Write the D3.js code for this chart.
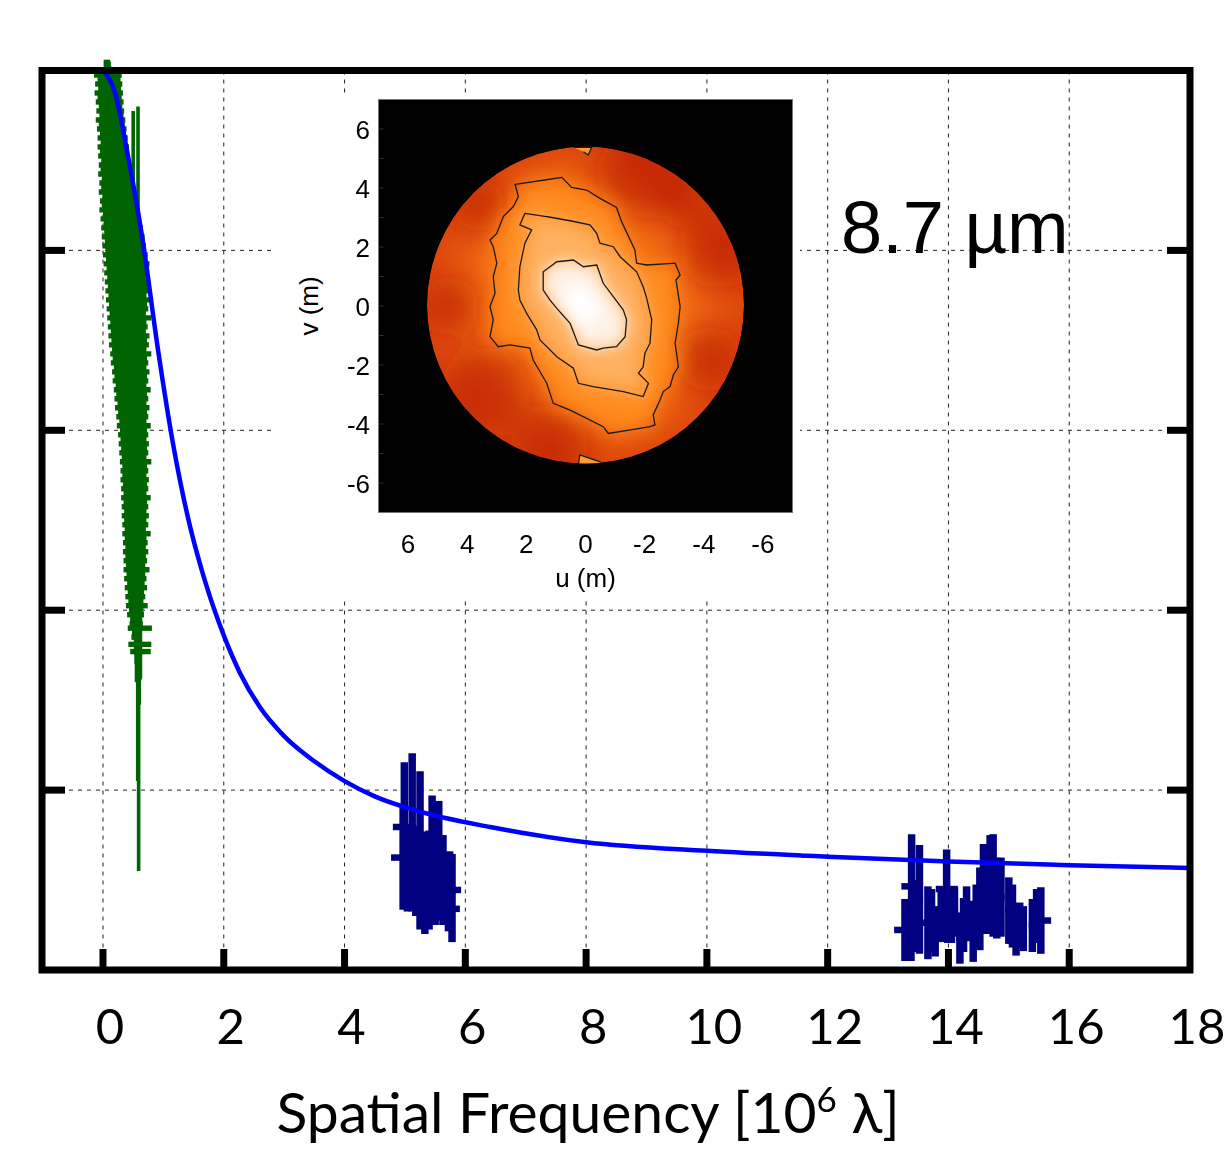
<!DOCTYPE html>
<html>
<head>
<meta charset="utf-8">
<script src="https://cdn.jsdelivr.net/npm/d3@7"></script>
<style>
  body { margin: 0; background: #fff; }
  svg { display: block; }
</style>
</head>
<body>
<div id="chart"></div>
<script>
// model visibility curve (blue line)
var modelFreq = [0, 0.2, 0.4, 0.66, 0.91, 1.16, 1.4, 1.7, 2.0, 2.27, 2.6, 3.0, 3.5, 4.0, 4.5, 5.25, 6.41, 8.0, 10.0, 12.0, 14.0, 16.0, 18.0];
var modelVis = [1.0, 0.975, 0.91, 0.81, 0.69, 0.585, 0.505, 0.43, 0.372, 0.33, 0.292, 0.26, 0.232, 0.21, 0.193, 0.176, 0.159, 0.142, 0.1325, 0.126, 0.1205, 0.1165, 0.1135];

// short baseline data (green)
var greenVis = [
    1.000, 0.995, 0.990, 0.985, 0.980, 0.975, 0.970, 0.965, 0.960, 0.955,
    0.950, 0.945, 0.940, 0.935, 0.930, 0.925, 0.920, 0.915, 0.910, 0.905,
    0.900, 0.895, 0.890, 0.885, 0.880, 0.875, 0.870, 0.865, 0.860, 0.855,
    0.850, 0.845, 0.840, 0.835, 0.830, 0.825, 0.820, 0.815, 0.810, 0.805,
    0.800, 0.795, 0.790, 0.785, 0.780, 0.775, 0.770, 0.765, 0.760, 0.755,
    0.750, 0.745, 0.740, 0.735, 0.730, 0.725, 0.720, 0.715, 0.710, 0.705,
    0.700, 0.695, 0.690, 0.685, 0.680, 0.675, 0.670, 0.665, 0.660, 0.655,
    0.650, 0.645, 0.640, 0.635, 0.630, 0.625, 0.620, 0.615, 0.610, 0.605,
    0.600, 0.595, 0.590, 0.585, 0.580, 0.575, 0.570, 0.565, 0.560, 0.555,
    0.550, 0.545, 0.540, 0.535, 0.530, 0.525, 0.520, 0.515, 0.510, 0.505,
    0.500, 0.495, 0.490, 0.485, 0.480, 0.475, 0.470, 0.465, 0.460, 0.455,
    0.450, 0.445, 0.440, 0.435, 0.430, 0.425, 0.420, 0.415, 0.410, 0.405,
    0.400, 0.395, 0.390, 0.385, 0.380, 0.375, 0.370, 0.362, 0.354,
    0.800, 0.790, 0.450, 0.450, 0.420, 0.990
];
var greenVisErr = [
    0.012, 0.015, 0.02, 0.018, 0.025, 0.02, 0.03, 0.025, 0.03, 0.02,
    0.03, 0.025, 0.035, 0.02, 0.03, 0.04, 0.025, 0.03, 0.035, 0.02,
    0.03, 0.04, 0.025, 0.035, 0.03, 0.045, 0.02, 0.03, 0.04, 0.025,
    0.035, 0.03, 0.045, 0.02, 0.03, 0.04, 0.035, 0.025, 0.05, 0.03,
    0.04, 0.03, 0.045, 0.025, 0.035, 0.05, 0.03, 0.04, 0.025, 0.045,
    0.035, 0.03, 0.05, 0.04, 0.025, 0.045, 0.03, 0.035, 0.05, 0.03,
    0.04, 0.045, 0.03, 0.05, 0.035, 0.025, 0.045, 0.04, 0.03, 0.05,
    0.035, 0.045, 0.03, 0.04, 0.05, 0.035, 0.03, 0.045, 0.04, 0.03,
    0.05, 0.035, 0.04, 0.03, 0.045, 0.05, 0.035, 0.04, 0.03, 0.045,
    0.04, 0.035, 0.05, 0.03, 0.045, 0.04, 0.035, 0.05, 0.03, 0.04,
    0.045, 0.035, 0.04, 0.05, 0.03, 0.045, 0.04, 0.035, 0.05, 0.04,
    0.035, 0.045, 0.04, 0.03, 0.05, 0.04, 0.035, 0.045, 0.04, 0.05,
    0.045, 0.04, 0.05, 0.035, 0.04, 0.045, 0.05, 0.04, 0.03,
    0.155, 0.17, 0.34, 0.155, 0.21, 0.022
];
var greenFreq = [
    0.09, 0.08, 0.10, 0.095, 0.11, 0.095, 0.11, 0.11, 0.125, 0.12,
    0.14, 0.125, 0.145, 0.145, 0.16, 0.16, 0.175, 0.17, 0.175, 0.18,
    0.195, 0.195, 0.20, 0.20, 0.22, 0.225, 0.23, 0.235, 0.255, 0.26,
    0.265, 0.27, 0.29, 0.295, 0.31, 0.315, 0.33, 0.335, 0.345, 0.35,
    0.365, 0.37, 0.38, 0.39, 0.39, 0.385, 0.39, 0.405, 0.405, 0.40,
    0.405, 0.42, 0.415, 0.405, 0.41, 0.435, 0.42, 0.41, 0.42, 0.43,
    0.435, 0.43, 0.435, 0.46, 0.445, 0.44, 0.45, 0.46, 0.46, 0.455,
    0.465, 0.485, 0.475, 0.47, 0.48, 0.485, 0.49, 0.485, 0.495, 0.51,
    0.505, 0.50, 0.505, 0.51, 0.515, 0.51, 0.515, 0.54, 0.525, 0.52,
    0.52, 0.525, 0.53, 0.525, 0.53, 0.545, 0.535, 0.53, 0.535, 0.535,
    0.535, 0.535, 0.535, 0.555, 0.54, 0.535, 0.54, 0.54, 0.54, 0.535,
    0.54, 0.555, 0.545, 0.535, 0.545, 0.545, 0.545, 0.535, 0.545, 0.56,
    0.55, 0.54, 0.55, 0.55, 0.61, 0.56, 0.555, 0.61, 0.62,
    0.50, 0.58, 0.59, 0.60, 0.575, 0.04
];
var greenFreqErr = [
    0.19, 0.23, 0.19, 0.225, 0.19, 0.235, 0.20, 0.23, 0.195, 0.23,
    0.20, 0.245, 0.215, 0.245, 0.21, 0.25, 0.215, 0.26, 0.225, 0.26,
    0.225, 0.265, 0.24, 0.28, 0.24, 0.285, 0.26, 0.305, 0.265, 0.31,
    0.285, 0.33, 0.29, 0.335, 0.30, 0.345, 0.31, 0.355, 0.315, 0.36,
    0.325, 0.37, 0.33, 0.38, 0.33, 0.365, 0.32, 0.375, 0.325, 0.36,
    0.315, 0.37, 0.315, 0.345, 0.30, 0.365, 0.30, 0.33, 0.29, 0.34,
    0.295, 0.33, 0.285, 0.34, 0.285, 0.31, 0.27, 0.31, 0.27, 0.295,
    0.255, 0.305, 0.255, 0.28, 0.24, 0.285, 0.24, 0.265, 0.225, 0.28,
    0.225, 0.25, 0.215, 0.25, 0.215, 0.24, 0.205, 0.26, 0.205, 0.23,
    0.20, 0.235, 0.20, 0.225, 0.19, 0.245, 0.195, 0.22, 0.185, 0.225,
    0.185, 0.215, 0.175, 0.235, 0.18, 0.205, 0.17, 0.21, 0.17, 0.195,
    0.16, 0.215, 0.155, 0.185, 0.145, 0.185, 0.135, 0.165, 0.125, 0.18,
    0.12, 0.14, 0.10, 0.11, 0.20, 0.08, 0.085, 0.19, 0.17,
    0.03, 0.03, 0.03, 0.03, 0.03, 0.06
];

// long baseline data (navy)
var midiFreq = [
    4.99, 4.97, 5.04, 5.12, 5.18, 5.25, 5.33, 5.40, 5.45, 5.50, 5.56, 5.63, 5.74, 5.72, 5.78,
    13.28, 13.39, 13.38, 13.45, 13.52, 13.66, 13.72, 13.78, 13.88, 13.97, 13.99, 14.05, 14.10, 14.19,
    14.25, 14.30, 14.41, 14.46, 14.52, 14.58, 14.63, 14.69, 14.74, 14.80, 14.87, 15.00, 15.06,
    15.12, 15.18, 15.24, 15.39, 15.46, 15.53
];
var midiFreqErr = [
    0.19, 0.20, 0.05, 0.10, 0.05, 0.10, 0.06, 0.05, 0.10, 0.05, 0.10, 0.05, 0.19, 0.19, 0.05,
    0.18, 0.17, 0.05, 0.05, 0.06, 0.08, 0.05, 0.06, 0.06, 0.18, 0.05, 0.05, 0.06, 0.06,
    0.05, 0.06, 0.06, 0.05, 0.06, 0.05, 0.06, 0.05, 0.06, 0.05, 0.06, 0.06, 0.05,
    0.10, 0.05, 0.06, 0.06, 0.05, 0.17
];
var midiVis = [
    0.159, 0.125, 0.110, 0.153, 0.110, 0.133, 0.097, 0.100, 0.1255, 0.100, 0.1215, 0.100, 0.089, 0.068, 0.080,
    0.0445, 0.093, 0.040, 0.060, 0.0785, 0.0525, 0.055, 0.043, 0.062, 0.090, 0.050, 0.060, 0.065, 0.0355,
    0.050, 0.0625, 0.043, 0.060, 0.068, 0.090, 0.089, 0.100, 0.094, 0.080, 0.081, 0.066, 0.060,
    0.0445, 0.050, 0.046, 0.0495, 0.060, 0.055
];
var midiVisErr = [
    0.072, 0.058, 0.045, 0.088, 0.050, 0.088, 0.057, 0.055, 0.0685, 0.050, 0.0665, 0.050, 0.043, 0.025, 0.049,
    0.0345, 0.058, 0.030, 0.040, 0.0605, 0.0405, 0.035, 0.028, 0.031, 0.044, 0.020, 0.030, 0.028, 0.0285,
    0.030, 0.0305, 0.034, 0.035, 0.046, 0.050, 0.049, 0.050, 0.057, 0.045, 0.044, 0.037, 0.035,
    0.0285, 0.025, 0.025, 0.0295, 0.030, 0.037
];

var xTicks = [0, 2, 4, 6, 8, 10, 12, 14, 16, 18];
var yTicks = [0.2, 0.4, 0.6, 0.8];
var insetTicks = [6, 4, 2, 0, -2, -4, -6];

// inset image: contour lines in metres (u, v)
var contourOuter = [
    [2.38, 4.12], [0.80, 4.36], [0.47, 4.02], [-0.04, 3.93], [-0.49, 3.65], [-1.05, 3.34], [-1.22, 2.86],
    [-1.67, 1.90], [-1.73, 1.45], [-2.07, 1.39], [-3.03, 1.45], [-3.20, 1.05], [-3.06, 0.88], [-3.20, -0.02],
    [-3.14, -0.59], [-3.03, -1.26], [-3.14, -2.06], [-2.97, -2.34], [-2.86, -2.73], [-2.63, -2.90],
    [-2.52, -3.19], [-2.29, -3.69], [-2.35, -4.03], [-2.18, -4.09], [-1.84, -4.15], [-0.77, -4.32],
    [-0.60, -4.09], [-0.04, -3.81], [0.52, -3.53], [1.09, -3.30], [1.31, -2.62], [1.77, -1.83],
    [1.88, -1.43], [2.55, -1.32], [2.95, -1.38], [3.23, -1.04], [3.12, -0.47], [3.23, -0.02], [3.06, 0.43],
    [3.12, 0.99], [3.00, 1.45], [3.12, 2.01], [3.23, 2.24], [3.00, 2.46], [2.78, 3.03], [2.44, 3.37],
    [2.27, 3.71]
];
var contourMiddle = [
    [2.05, 3.14], [1.43, 3.05], [0.52, 2.89], [-0.15, 2.75], [-0.38, 2.46], [-0.49, 2.13], [-0.94, 2.01],
    [-1.17, 1.67], [-1.73, 1.16], [-1.95, 0.65], [-2.07, 0.26], [-2.24, -0.47], [-2.18, -1.26],
    [-2.01, -1.60], [-1.95, -2.06], [-1.79, -2.28], [-2.13, -2.62], [-1.95, -3.07], [-1.28, -2.90],
    [-0.26, -2.73], [0.24, -2.62], [0.41, -2.11], [0.97, -1.72], [1.54, -1.15], [1.65, -0.81],
    [1.99, -0.25], [2.22, 0.20], [2.27, 0.54], [2.22, 1.33], [2.05, 2.13], [1.82, 2.58], [2.22, 2.75]
];
var contourInner = [
    [1.43, 1.16], [0.97, 1.50], [0.41, 1.56], [0.07, 1.33], [-0.38, 1.39], [-0.60, 0.77], [-0.94, 0.32],
    [-1.28, -0.14], [-1.39, -0.47], [-1.34, -1.04], [-1.05, -1.38], [-0.60, -1.43], [-0.38, -1.49],
    [0.24, -1.32], [0.41, -0.87], [0.52, -0.59], [0.97, -0.08], [1.20, 0.20], [1.43, 0.54]
];
var contourTop = [[0.41, 5.38], [-0.21, 5.38], [-0.09, 5.12], [0.07, 5.23]];
var contourBottom = [[0.24, -5.36], [0.19, -5.05], [-0.49, -5.28], [-0.60, -5.36]];
var darkPatchU = [-1.9, -4.5, -4.2, 4.6, 3.4, 1.2, 3.6, -3.3];
var darkPatchV = [4.5, 1.9, -1.8, 0.0, -2.9, -4.7, 3.4, 3.6];
var darkPatchR = [1.5, 1.3, 1.1, 1.0, 1.5, 1.3, 0.9, 0.9];

var width = 1227, height = 1149;

var svg = d3.select('#chart').append('svg')
    .attr('width', width)
    .attr('height', height)
    .style('font-family', "'Liberation Sans', Arial, sans-serif");

var defs = svg.append('defs');
[2, 7, 10, 16].forEach(function (s) {
    defs.append('filter')
        .attr('id', 'blur' + s)
        .attr('x', '-60%').attr('y', '-60%')
        .attr('width', '220%').attr('height', '220%')
        .append('feGaussianBlur')
        .attr('stdDeviation', s);
});

var edge = defs.append('radialGradient').attr('id', 'discfill');
edge.append('stop').attr('offset', '0%').attr('stop-color', '#f87818');
edge.append('stop').attr('offset', '70%').attr('stop-color', '#f06a14');
edge.append('stop').attr('offset', '100%').attr('stop-color', '#de4a0c');

svg.append('rect').attr('width', width).attr('height', height).attr('fill', '#fff');

// Scales
var x = d3.scaleLinear().domain([-1.01, 18]).range([42, 1190]);
var y = d3.scaleLinear().domain([0, 1]).range([970, 70.5]);

// Grid
var grid = svg.append('g').attr('class', 'grid')
    .attr('stroke', '#222')
    .attr('stroke-width', 1)
    .attr('stroke-dasharray', '4,5');

grid.selectAll('.vgrid')
    .data(xTicks.filter(function (d) { return d < 18; }))
    .enter().append('line')
    .attr('x1', function (d) { return x(d); })
    .attr('x2', function (d) { return x(d); })
    .attr('y1', y(1))
    .attr('y2', y(0));

grid.selectAll('.hgrid')
    .data(yTicks)
    .enter().append('line')
    .attr('x1', x(-1.01))
    .attr('x2', x(18))
    .attr('y1', function (d) { return y(d); })
    .attr('y2', function (d) { return y(d); });

// Inset image (u-v reconstruction)
var u = d3.scaleLinear().domain([7, -7]).range([378.5, 792.5]);
var v = d3.scaleLinear().domain([-7, 7]).range([512.5, 99.5]);

svg.append('rect')
    .attr('x', 272).attr('y', 94)
    .attr('width', 528).attr('height', 503)
    .attr('fill', '#fff');

svg.append('rect')
    .attr('x', u(7)).attr('y', v(7))
    .attr('width', u(-7) - u(7))
    .attr('height', v(-7) - v(7))
    .attr('fill', '#000')
    .attr('stroke', '#777')
    .attr('stroke-width', 1);

svg.append('g').selectAll('line')
    .data(d3.range(-6, 7))
    .enter().append('line')
    .attr('x1', u(7) + 1).attr('x2', u(7) + 5)
    .attr('y1', function (d) { return v(d); })
    .attr('y2', function (d) { return v(d); })
    .attr('stroke', '#333');

var discR = u(0) - u(5.36);
defs.append('clipPath').attr('id', 'disc')
    .append('circle')
    .attr('cx', u(0)).attr('cy', v(0.03)).attr('r', discR);

var disc = svg.append('g').attr('clip-path', 'url(#disc)');
disc.append('circle')
    .attr('cx', u(0)).attr('cy', v(0.03)).attr('r', discR)
    .attr('fill', 'url(#discfill)');

disc.append('g').attr('filter', 'url(#blur16)')
    .selectAll('circle')
    .data(darkPatchU)
    .enter().append('circle')
    .attr('cx', function (d) { return u(d); })
    .attr('cy', function (d, i) { return v(darkPatchV[i]); })
    .attr('r', function (d, i) { return u(0) - u(darkPatchR[i]); })
    .attr('fill', '#b81400')
    .attr('opacity', 0.6);

var poly = d3.line()
    .x(function (d) { return u(d[0]); })
    .y(function (d) { return v(d[1]); })
    .curve(d3.curveLinearClosed);

disc.append('path').datum(contourOuter)
    .attr('d', poly).attr('fill', '#ff8a1a').attr('filter', 'url(#blur10)');
disc.append('path').datum(contourMiddle)
    .attr('d', poly).attr('fill', '#ffb060').attr('filter', 'url(#blur10)');
disc.append('path').datum(contourInner)
    .attr('d', poly).attr('fill', '#fff0e2').attr('filter', 'url(#blur7)');
disc.append('ellipse')
    .attr('cx', u(0.1)).attr('cy', v(0.05))
    .attr('rx', 14).attr('ry', 24)
    .attr('transform', 'rotate(-35,' + u(0.1) + ',' + v(0.05) + ')')
    .attr('fill', '#fff')
    .attr('filter', 'url(#blur7)');
disc.append('path').datum(contourTop)
    .attr('d', poly).attr('fill', '#ff9a30');
disc.append('path').datum(contourBottom)
    .attr('d', poly).attr('fill', '#ff9a30');

[contourOuter, contourMiddle, contourInner].forEach(function (c) {
    disc.append('path').datum(c)
        .attr('d', poly)
        .attr('fill', 'none')
        .attr('stroke', '#1a1a1a')
        .attr('stroke-width', 1.3);
});
[contourTop, contourBottom].forEach(function (c) {
    disc.append('path').datum(c)
        .attr('d', d3.line().x(function (d) { return u(d[0]); }).y(function (d) { return v(d[1]); }))
        .attr('fill', 'none')
        .attr('stroke', '#1a1a1a')
        .attr('stroke-width', 1.3);
});

// Inset labels
svg.append('g').selectAll('text')
    .data(insetTicks)
    .enter().append('text')
    .attr('x', function (d) { return u(d); })
    .attr('y', 553)
    .attr('text-anchor', 'middle')
    .style('font-size', '26px')
    .text(function (d) { return d; });

svg.append('g').selectAll('text')
    .data(insetTicks)
    .enter().append('text')
    .attr('x', 370)
    .attr('y', function (d) { return v(d) + 9.5; })
    .attr('text-anchor', 'end')
    .style('font-size', '26px')
    .text(function (d) { return d; });

svg.append('text')
    .attr('x', u(0)).attr('y', 587)
    .attr('text-anchor', 'middle')
    .style('font-size', '26px')
    .text('u (m)');

svg.append('text')
    .attr('transform', 'translate(318,' + v(0) + ')rotate(-90)')
    .attr('text-anchor', 'middle')
    .style('font-size', '26px')
    .text('v (m)');

// Error bars
function errorBars(g, fx, fxe, fv, fve, color, wx, wv) {
    var pts = fx.map(function (f, i) {
        return { f: f, fe: fxe[i], v: fv[i], ve: fve[i] };
    });
    g.selectAll('.hbar')
        .data(pts)
        .enter().append('line')
        .attr('x1', function (d) { return x(d.f - d.fe); })
        .attr('x2', function (d) { return x(d.f + d.fe); })
        .attr('y1', function (d) { return y(d.v); })
        .attr('y2', function (d) { return y(d.v); })
        .attr('stroke', color)
        .attr('stroke-width', wx);
    g.selectAll('.vbar')
        .data(pts)
        .enter().append('line')
        .attr('x1', function (d) { return x(d.f); })
        .attr('x2', function (d) { return x(d.f); })
        .attr('y1', function (d) { return y(d.v - d.ve); })
        .attr('y2', function (d) { return y(d.v + d.ve); })
        .attr('stroke', color)
        .attr('stroke-width', wv);
}

errorBars(svg.append('g'), greenFreq, greenFreqErr, greenVis, greenVisErr, '#006400', 5.4, 3.6);
errorBars(svg.append('g'), midiFreq, midiFreqErr, midiVis, midiVisErr, '#000080', 6.5, 7.5);

// Model line
var model = modelFreq.map(function (f, i) { return { f: f, v: modelVis[i] }; });
svg.append('path')
    .datum(model)
    .attr('fill', 'none')
    .attr('stroke', '#0000ff')
    .attr('stroke-width', 4.5)
    .attr('d', d3.line()
        .x(function (d) { return x(d.f); })
        .y(function (d) { return y(d.v); })
        .curve(d3.curveMonotoneX));

// Frame and ticks
var frame = svg.append('g').attr('stroke', '#000');
frame.append('rect')
    .attr('x', x(-1.01)).attr('y', y(1))
    .attr('width', x(18) - x(-1.01))
    .attr('height', y(0) - y(1))
    .attr('fill', 'none')
    .attr('stroke-width', 7);

frame.selectAll('.ltick')
    .data(yTicks)
    .enter().append('line')
    .attr('x1', x(-1.01)).attr('x2', x(-1.01) + 23)
    .attr('y1', function (d) { return y(d); })
    .attr('y2', function (d) { return y(d); })
    .attr('stroke-width', 7);

frame.selectAll('.rtick')
    .data(yTicks)
    .enter().append('line')
    .attr('x1', x(18) - 23).attr('x2', x(18))
    .attr('y1', function (d) { return y(d); })
    .attr('y2', function (d) { return y(d); })
    .attr('stroke-width', 7);

frame.selectAll('.btick')
    .data(xTicks.filter(function (d) { return d < 18; }))
    .enter().append('line')
    .attr('x1', function (d) { return x(d); })
    .attr('x2', function (d) { return x(d); })
    .attr('y1', y(0)).attr('y2', y(0) - 21)
    .attr('stroke-width', 7);

// Tick labels
svg.append('g').selectAll('text')
    .data(xTicks)
    .enter().append('text')
    .attr('x', function (d) { return x(d) + 7; })
    .attr('y', 1044)
    .attr('text-anchor', 'middle')
    .style('font-family', "Lato, sans-serif")
    .style('font-size', '49px')
    .text(function (d) { return d; });

// Axis title
var title = svg.append('text')
    .attr('x', 588)
    .attr('y', 1133)
    .attr('text-anchor', 'middle')
    .style('font-family', "Lato, 'Open Sans', sans-serif")
    .style('font-size', '57px');
title.append('tspan').text('Spatial Frequency [10');
title.append('tspan').attr('dy', -21).style('font-size', '35px').text('6');
title.append('tspan').attr('dy', 21).text(' \u03bb]');

// Wavelength label
svg.append('text')
    .attr('x', 841)
    .attr('y', 253)
    .style('font-size', '74px')
    .text('8.7 \u00b5m');
</script>
</body>
</html>
